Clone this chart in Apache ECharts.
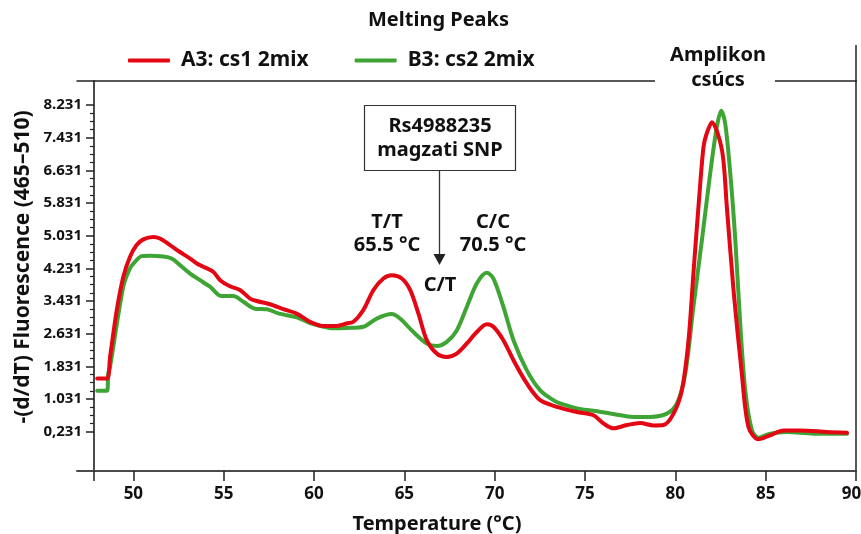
<!DOCTYPE html>
<html><head><meta charset="utf-8">
<script src="https://cdn.jsdelivr.net/npm/echarts@6/dist/echarts.min.js"></script>
<style>html,body{margin:0;padding:0;background:#fff}#c{width:861px;height:534px}</style>
</head><body><div id="c"></div>
<script>
// ---- data ----
const seriesNames = ['A3: cs1 2mix', 'B3: cs2 2mix'];
const tempsA = [48.0, 48.54, 48.71, 49.08, 49.44, 49.81, 50.18, 50.55, 51.10, 51.47, 52.03, 52.58, 53.14, 53.51, 53.87, 54.43, 54.80, 55.35, 55.90, 56.46, 56.83, 57.57, 58.30, 59.04, 59.78, 60.52, 61.26, 61.81, 62.18, 62.73, 63.29, 63.84, 64.30, 64.86, 65.32, 65.78, 66.24, 66.80, 67.35, 67.90, 68.46, 69.01, 69.56, 69.93, 70.48, 71.04, 71.78, 72.52, 73.50, 74.55, 75.47, 76.02, 76.57, 77.32, 78.05, 78.79, 79.34, 79.90, 80.36, 80.73, 81.00, 81.28, 81.56, 81.74, 82.02, 82.58, 82.85, 83.22, 83.68, 84.05, 84.60, 85.25, 85.99, 86.91, 88.39, 89.50];
const valuesA = [1.53, 1.53, 2.06, 3.20, 4.02, 4.51, 4.80, 4.94, 5.00, 4.96, 4.80, 4.63, 4.47, 4.35, 4.27, 4.14, 3.94, 3.79, 3.70, 3.49, 3.43, 3.35, 3.23, 3.12, 2.92, 2.82, 2.82, 2.88, 2.92, 3.21, 3.70, 3.98, 4.06, 3.98, 3.70, 3.12, 2.47, 2.14, 2.06, 2.14, 2.39, 2.67, 2.86, 2.80, 2.47, 1.98, 1.41, 1.00, 0.83, 0.71, 0.63, 0.43, 0.31, 0.39, 0.44, 0.38, 0.39, 0.67, 1.24, 2.47, 4.10, 5.74, 7.21, 7.54, 7.81, 7.13, 5.74, 3.70, 1.65, 0.34, 0.04, 0.14, 0.26, 0.26, 0.22, 0.20];
const tempsB = [48.0, 48.54, 48.61, 48.71, 49.44, 49.81, 50.09, 50.46, 50.92, 51.66, 52.12, 52.58, 53.14, 53.69, 54.24, 54.89, 55.53, 56.09, 56.73, 57.38, 57.94, 58.49, 59.04, 59.78, 60.52, 61.07, 61.81, 62.73, 63.47, 64.30, 64.76, 65.50, 66.24, 66.80, 67.35, 67.90, 68.46, 69.01, 69.56, 69.93, 70.48, 71.04, 71.78, 72.52, 73.25, 73.62, 74.55, 75.47, 76.57, 77.68, 78.61, 79.53, 80.09, 80.55, 81.00, 81.47, 81.93, 82.30, 82.54, 82.76, 83.04, 83.32, 83.59, 83.87, 84.24, 84.60, 85.25, 86.18, 87.65, 89.50];
const valuesB = [1.23, 1.23, 1.65, 1.82, 3.78, 4.23, 4.39, 4.53, 4.54, 4.52, 4.47, 4.31, 4.10, 3.94, 3.78, 3.55, 3.55, 3.41, 3.24, 3.23, 3.14, 3.08, 3.03, 2.89, 2.80, 2.76, 2.77, 2.80, 3.00, 3.11, 3.00, 2.67, 2.39, 2.33, 2.43, 2.71, 3.29, 3.86, 4.12, 3.98, 3.29, 2.47, 1.73, 1.24, 1.00, 0.92, 0.80, 0.74, 0.66, 0.59, 0.59, 0.67, 0.92, 1.65, 3.29, 4.92, 6.56, 7.70, 8.09, 7.78, 6.56, 4.92, 2.88, 1.24, 0.26, 0.08, 0.18, 0.22, 0.18, 0.18];
const xTickValues = [50, 55, 60, 65, 70, 75, 80, 85, 90];
const yTickValues = [0.231, 1.031, 1.831, 2.631, 3.431, 4.231, 5.031, 5.831, 6.631, 7.431, 8.231];
const yTickLabels = ['0,231', '1.031', '1.831', '2.631', '3.431', '4.231', '5.031', '5.831', '6.631', '7.431', '8.231'];

// ---- layout constants ----
const X_MIN = 46.88, X_MAX = 90, X_AXIS_START = 47.82;
const Y_MIN = -0.735, Y_MAX = 8.82;
const FONT = '"Noto Sans", "Open Sans", sans-serif';
const RED = '#e30613', GREEN = '#3ea535', INK = '#111', AXIS = '#4a4a4a';

const yMinorValues = [];
for (let i = 0; i < yTickValues.length - 1; i++) {
  for (let k = 1; k < 4; k++) yMinorValues.push(+(yTickValues[i] + k * 0.2).toFixed(3));
}
const zip = (xs, ys) => xs.map((x, i) => [x, ys[i]]);

const chart = echarts.init(document.getElementById('c'), null, {renderer: 'canvas'});
const textEl = (text, x, y, size, extra) => Object.assign({
  type: 'text', x: x, y: y, z: 110,
  style: {text: text, fill: INK, fontFamily: FONT, fontWeight: 'bold', fontSize: size, align: 'center', verticalAlign: 'middle'}
}, extra || {});

chart.setOption({
  animation: false,
  backgroundColor: '#fff',
  textStyle: {fontFamily: FONT},
  title: {
    text: 'Melting Peaks', left: 368, top: 10, padding: 0,
    textStyle: {fontFamily: FONT, fontWeight: 'bold', fontSize: 20, color: INK}
  },
  legend: {
    data: seriesNames, left: 128, top: 50, padding: 0,
    icon: 'roundRect', itemWidth: 42, itemHeight: 4, itemGap: 46,
    textStyle: {fontFamily: FONT, fontWeight: 'bold', fontSize: 21, color: INK, padding: [0, 0, 0, 6]}
  },
  grid: {left: 77, top: 81, right: 5, bottom: 63, containLabel: false, outerBoundsMode: 'none'},
  xAxis: [{
    type: 'value', position: 'bottom', min: X_MIN, max: X_MAX,
    axisLine: {show: true, onZero: false, lineStyle: {color: AXIS, width: 2}},
    axisTick: {show: true, length: 10, customValues: [X_AXIS_START].concat(xTickValues), lineStyle: {color: '#222', width: 1.5}},
    axisLabel: {
      show: true, customValues: xTickValues, margin: 15, color: INK, fontFamily: FONT, fontWeight: 'bold', fontSize: 17, hideOverlap: false,
      formatter: function (v) { return v === X_MAX ? '{last|' + v + '}' : String(v); },
      rich: {last: {fontFamily: FONT, fontWeight: 'bold', fontSize: 17, color: INK, padding: [0, 9, 0, 0]}}
    },
    splitLine: {show: false}
  }, {
    type: 'value', position: 'top', min: X_MIN, max: X_MAX,
    axisLine: {show: true, onZero: false, lineStyle: {color: '#222', width: 1.5}},
    axisTick: {show: false}, axisLabel: {show: false}, splitLine: {show: false}
  }],
  yAxis: [{
    type: 'value', position: 'left', offset: -17, min: Y_MIN, max: Y_MAX,
    axisLine: {show: true, onZero: false, lineStyle: {color: AXIS, width: 2}},
    axisTick: {show: true, length: 8, customValues: yTickValues, lineStyle: {color: '#222', width: 1.5}},
    axisLabel: {
      show: true, customValues: yTickValues, margin: 12, color: INK, fontFamily: FONT, fontWeight: 'bold', fontSize: 15,
      formatter: function (v) {
        let best = 0;
        yTickValues.forEach((t, i) => { if (Math.abs(t - v) < Math.abs(yTickValues[best] - v)) best = i; });
        return yTickLabels[best];
      }
    },
    splitLine: {show: false}
  }, {
    type: 'value', position: 'right', offset: 0, min: Y_MIN, max: Y_MAX,
    axisLine: {show: true, onZero: false, lineStyle: {color: '#222', width: 1.5}},
    axisTick: {show: false}, axisLabel: {show: false}, splitLine: {show: false}
  }, {
    type: 'value', position: 'left', offset: -17, min: Y_MIN, max: Y_MAX,
    axisLine: {show: false, onZero: false},
    axisTick: {show: true, length: 4, customValues: yMinorValues, lineStyle: {color: '#222', width: 1.2}},
    axisLabel: {show: false}, splitLine: {show: false}
  }],
  series: [{
    name: seriesNames[0], type: 'line', xAxisIndex: 0, yAxisIndex: 0,
    data: zip(tempsA, valuesA), showSymbol: false, smooth: 0.3, z: 3,
    itemStyle: {color: RED},
    lineStyle: {color: RED, width: 4, cap: 'round', join: 'round'}
  }, {
    name: seriesNames[1], type: 'line', xAxisIndex: 0, yAxisIndex: 0,
    data: zip(tempsB, valuesB), showSymbol: false, smooth: 0.3, z: 2,
    itemStyle: {color: GREEN},
    lineStyle: {color: GREEN, width: 4, cap: 'round', join: 'round'}
  }],
  graphic: [
    // gap in the top frame line for the "Amplikon csúcs" label
    {type: 'rect', z: 100, shape: {x: 655, y: 74, width: 120, height: 14}, style: {fill: '#fff'}},
    {type: 'line', z: 100, shape: {x1: 856, y1: 45, x2: 856, y2: 82}, style: {stroke: '#222', lineWidth: 1.5}},
    textEl('Amplikon', 718, 55, 20),
    textEl('csúcs', 718, 80, 20),
    // SNP box and arrow
    {type: 'rect', z: 100, shape: {x: 364.5, y: 105.5, width: 151, height: 65}, style: {fill: '#fff', stroke: '#333', lineWidth: 1.2}},
    textEl('Rs4988235', 440, 126, 20),
    textEl('magzati SNP', 440, 150, 20),
    {type: 'line', z: 100, shape: {x1: 439.5, y1: 171, x2: 439.5, y2: 256}, style: {stroke: '#333', lineWidth: 1.3}},
    {type: 'polygon', z: 100, shape: {points: [[433.5, 254], [445.5, 254], [439.5, 265]]}, style: {fill: '#222'}},
    textEl('T/T', 387, 222, 20),
    textEl('65.5 °C', 387, 245, 20),
    textEl('C/C', 493, 222, 20),
    textEl('70.5 °C', 493, 245, 20),
    textEl('C/T', 440, 285, 20),
    // axis titles
    textEl('Temperature (°C)', 437, 524, 20),
    textEl('-(d/dT) Fluorescence (465–510)', 23, 267, 21, {rotation: Math.PI / 2})
  ]
});
</script>
</body></html>
